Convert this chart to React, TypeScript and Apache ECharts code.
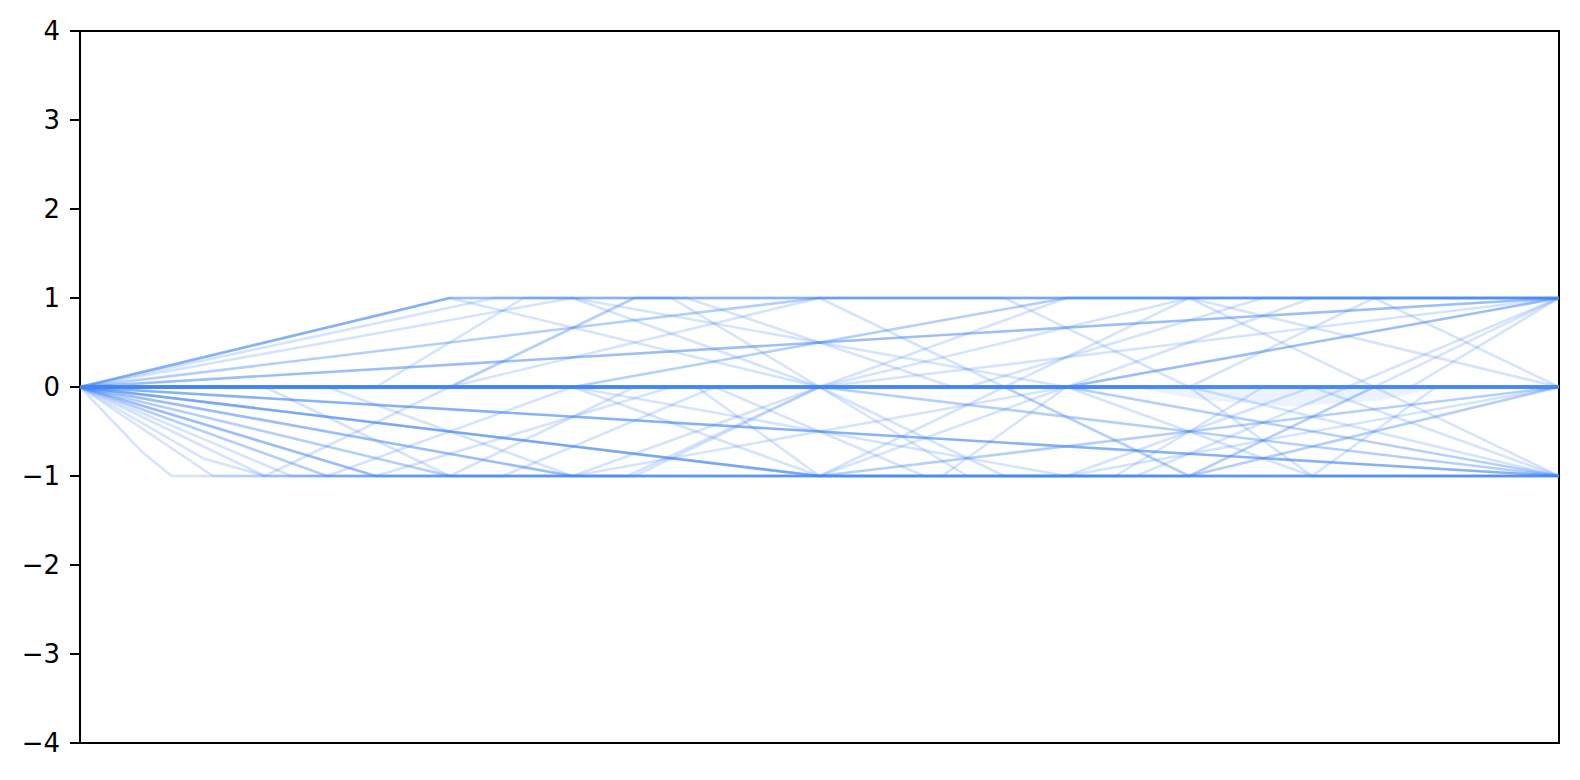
import { useEffect, useRef } from 'react';
import * as echarts from 'echarts';

type Pt = [number, number];

// x runs 0..100 along each path, y is the state value
const Y_TICKS = [-4, -3, -2, -1, 0, 1, 2, 3, 4];

const zeroPaths: Pt[][] = [
  [[0, 0], [100, 0]],
];

const heavyPaths: Pt[][] = [
  [[0, 0], [100, -1]],
];

const strongPaths: Pt[][] = [
  [[0, 0], [100, 1]],
  [[0, 0], [50, -1], [100, -1]],
];

const midPaths: Pt[][] = [
  [[0, 0], [25, 1], [100, 1]],
  [[0, 0], [50, 1], [100, 1]],
  [[0, 0], [25, -1], [75, -1], [100, 0]],
  [[0, 0], [20, -1], [100, -1]],
  [[0, 0], [33.3, -1], [100, -1]],
  [[0, 0], [33.3, 0], [66.7, 1], [100, 1]],
  [[0, 0], [50, 0], [100, -1]],
  [[0, 0], [66.7, 0], [100, -1]],
  [[0, 0], [66.7, 0], [100, 1]],
  [[0, 0], [50, -1], [100, 0]],
];

const faintPaths: Pt[][] = [
  [[0, 0], [4.2, -0.73], [6.2, -1], [25, -1], [37.5, 0], [50, 0], [62.5, -1], [75, -1], [87.5, 0], [100, 0]],
  [[0, 0], [8.3, -0.8], [12.5, -1], [25, -1], [37.5, -1], [50, 0], [62.5, 0], [75, 1], [100, 1]],
  [[0, 0], [12.5, -1], [25, 0], [37.5, 1], [50, 1], [62.5, 0], [75, 0], [87.5, 1], [100, 0]],
  [[0, 0], [16.7, -1], [33.3, 0], [50, -1], [66.7, -1], [83.3, 0], [100, -1]],
  [[0, 0], [33.3, 1], [66.7, 0], [100, 0]],
  [[0, 0], [25, 0], [37.5, 1], [50, 1], [62.5, 1], [75, 0], [100, 0]],
  [[0, 0], [25, 1], [50, 0], [75, 0], [100, -1]],
  [[0, 0], [28, 1], [41, 1], [59, 0], [100, 0]],
  [[0, 0], [16.7, 0], [33.3, -1], [50, 0], [66.7, 1], [83.3, 1], [100, 1]],
  [[0, 0], [20, 0], [30, 1], [40, 1], [50, 0], [60, -1], [70, -1], [80, 0], [90, 0], [100, 1]],
  [[0, 0], [12.5, 0], [25, -1], [37.5, -1], [50, -1], [62.5, 0], [75, -1], [87.5, -1], [100, -1]],
  [[0, 0], [20, -1], [40, 0], [60, 0], [80, 1], [100, 1]],
  [[0, 0], [14.3, -1], [28.6, -1], [42.9, 0], [57.1, -1], [71.4, -1], [85.7, 0], [100, 1]],
  [[0, 0], [25, 0], [50, 1], [75, 1], [100, 0]],
  [[0, 0], [33.3, 0], [66.7, -1], [100, 0]],
  [[0, 0], [16.7, -1], [33.3, -1], [50, -1], [66.7, 0], [83.3, -1], [100, -1]],
  [[0, 0], [50, 0], [75, 1], [100, -1]],
  [[0, 0], [62.5, 0], [75, -1], [100, 1]],
  [[0, 0], [9, -1], [37, -1], [50, 0], [100, 1]],
  [[0, 0], [33.3, -1], [66.7, 0], [100, 1]],
  [[0, 0], [41.7, 0], [50, -1], [58.3, -1], [66.7, 0], [75, 0], [83.3, -1], [91.7, 0], [100, 0]],
  [[0, 0], [25, 1], [33.3, 1], [50, 0], [66.7, 0], [83.3, 1], [100, 1]],
];

const shadeBand: Pt[] = [[71, 0], [76, -0.15], [82, -0.22], [88, -0.15], [92, 0]];

const BLUE = '#4285F4';

export default function App() {
  const chartRef = useRef<HTMLDivElement>(null);

  useEffect(() => {
    if (!chartRef.current) return;
    const chart = echarts.init(chartRef.current, undefined, { renderer: 'svg' });

    // each path stands for a number of identical runs drawn at alpha 0.2
    const groups: [Pt[][], number, number][] = [
      [faintPaths, 1, 2.6],
      [midPaths, 2, 2.6],
      [strongPaths, 3, 2.6],
      [heavyPaths, 4, 2.6],
      [zeroPaths, 10, 4],
    ];

    const series: any[] = [
      {
        type: 'line',
        data: shadeBand,
        symbol: 'none',
        silent: true,
        lineStyle: { width: 0 },
        areaStyle: { color: BLUE, opacity: 0.1 },
      },
    ];
    groups.forEach(([paths, w, width]) => {
      paths.forEach(p => {
        series.push({
          type: 'line',
          data: p,
          symbol: 'none',
          silent: true,
          lineStyle: { color: BLUE, width, opacity: 1 - Math.pow(0.78, w) },
        });
      });
    });

    chart.setOption({
      animation: false,
      grid: {
        left: 80, right: 21, top: 31, bottom: 37,
        show: true, borderColor: '#000', borderWidth: 2, backgroundColor: '#fff',
      },
      xAxis: { type: 'value', min: 0, max: 100, show: false },
      yAxis: {
        type: 'value',
        min: Y_TICKS[0],
        max: Y_TICKS[Y_TICKS.length - 1],
        interval: 1,
        axisLine: { show: false },
        axisTick: { show: true, length: 10, lineStyle: { color: '#000', width: 2 } },
        splitLine: { show: false },
        axisLabel: {
          color: '#000',
          fontSize: 26,
          fontFamily: 'DejaVu Sans',
          margin: 20,
          formatter: (v: number) => (v < 0 ? '\u2212' + Math.abs(v) : String(v)),
        },
      },
      series,
    });

    return () => chart.dispose();
  }, []);

  return (
    <div
      ref={chartRef}
      style={{ position: 'absolute', left: 0, top: 0, width: 1580, height: 780, background: '#fff' }}
    />
  );
}
